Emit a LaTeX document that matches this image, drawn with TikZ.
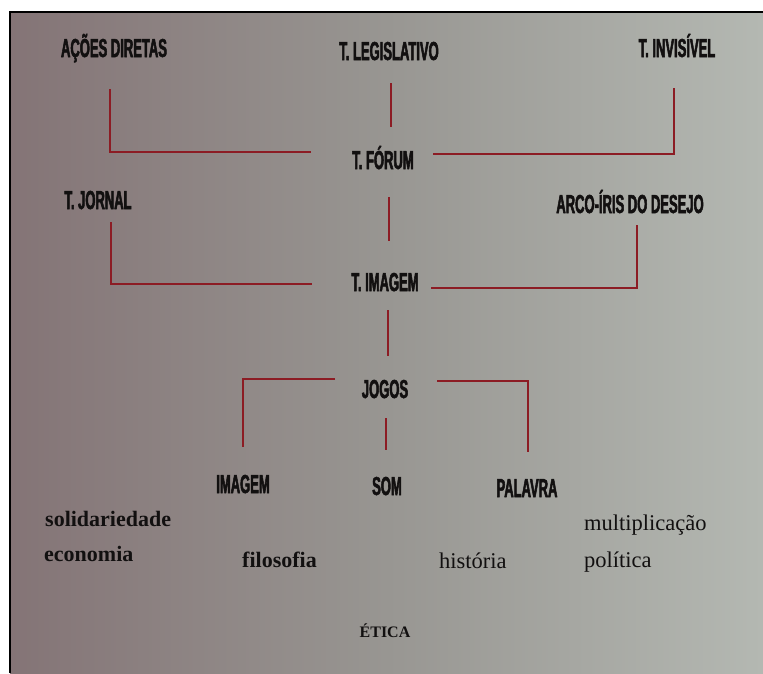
\documentclass[tikz,border=0pt]{standalone}
\usepackage{fontspec}
\setmainfont{Liberation Serif}
\newfontfamily\headfont[FakeStretch=0.5,FakeBold=2]{Liberation Sans}
\usetikzlibrary{calc}
\definecolor{linkred}{RGB}{140,28,36}
\definecolor{ink}{RGB}{18,16,16}
\definecolor{bgL}{RGB}{132,116,118}
\definecolor{bgM}{RGB}{152,150,146}
\definecolor{bgR}{RGB}{180,184,178}
\begin{document}
\begin{tikzpicture}[x=1pt,y=-1pt,
  head/.style={font=\headfont\bfseries\fontsize{26}{26}\selectfont, text=ink,
    inner sep=0pt, outer sep=0pt, text height=17pt, text depth=0pt, anchor=base},
  word/.style={font=\fontsize{22.5}{22.5}\selectfont, text=ink, inner sep=0pt, anchor=base west},
  boldword/.style={word, font=\bfseries\fontsize{22}{22}\selectfont},
  smallcap/.style={font=\bfseries\fontsize{16}{16}\selectfont, text=ink, inner sep=0pt, anchor=base},
  link/.style={draw=linkred, line width=1.6pt}]
\useasboundingbox (0,0) rectangle (763,673);
\fill[white] (0,0) rectangle (763,673);
\shade[left color=bgL, right color=bgR, middle color=bgM] (10,12) rectangle (763,673);
\draw[black, line width=2.5pt] (10,673) -- (10,12) -- (763,12);

% headings
\node[head] (acoes) at (114,57) {AÇÕES DIRETAS};
\node[head] (legis) at (389,60) {T. LEGISLATIVO};
\node[head] (invis) at (677,57) {T. INVISÍVEL};
\node[head] (forum) at (383,169) {T. FÓRUM};
\node[head] (jornal) at (98,209) {T. JORNAL};
\node[head] (arco) at (630,213) {ARCO-ÍRIS DO DESEJO};
\node[head] (timg) at (385,291) {T. IMAGEM};
\node[head] (jogos) at (385,398) {JOGOS};
\node[head] (imagem) at (243,493) {IMAGEM};
\node[head] (som) at (387,495) {SOM};
\node[head] (palavra) at (527,497) {PALAVRA};

% connectors
\draw[link] ([xshift=-4pt,yshift=-32pt]acoes.south) |- ([xshift=-72pt]forum.north);
\draw[link] ([xshift=-3pt,yshift=-31pt]invis.south) |- ([xshift=50pt,yshift=-2pt]forum.north);
\draw[link] ([xshift=2pt,yshift=-23pt]legis.south) -- ([xshift=8pt,yshift=25pt]forum.north);
\draw[link] ([xshift=6pt,yshift=-28pt]forum.south) -- ([xshift=4pt,yshift=33pt]timg.north);
\draw[link] ([xshift=13pt,yshift=-13pt]jornal.south) |- ([xshift=-73pt,yshift=7pt]timg.south);
\draw[link] ([xshift=7pt,yshift=-12pt]arco.south) |- ([xshift=46pt,yshift=3pt]timg.south);
\draw[link] ([xshift=3pt,yshift=-19pt]timg.south) -- ([xshift=3pt,yshift=25pt]jogos.north);
\draw[link] ([xshift=-50pt,yshift=2pt]jogos.north) -| ([yshift=29pt]imagem.north);
\draw[link] ([xshift=52pt]jogos.north) -| ([xshift=1pt,yshift=28pt]palavra.north);
\draw[link] ([xshift=1pt,yshift=-20pt]jogos.south) -- ([xshift=-1pt,yshift=28pt]som.north);

% words
\node[boldword] (solid) at (45,526) {solidariedade};
\node[boldword] (econ) at (44,561) {economia};
\node[boldword] (filo) at (242,567) {filosofia};
\node[word] (hist) at (439,568) {história};
\node[word] (mult) at (584,530) {multiplicação};
\node[word] (poli) at (584,567) {política};
\node[smallcap] (etica) at (385,637) {ÉTICA};
\end{tikzpicture}
\end{document}
